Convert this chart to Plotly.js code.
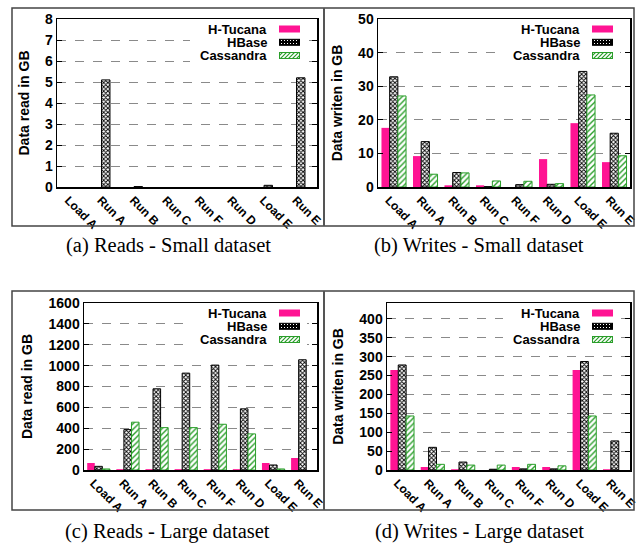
<!DOCTYPE html>
<html><head><meta charset="utf-8">
<script src="https://cdn.plot.ly/plotly-3.0.1.min.js"></script>
<style>html,body{margin:0;padding:0;background:#fff}#chart{width:638px;height:544px}</style>
</head><body><div id="chart"></div>
<script>
// ---------- data ----------
const categories = ['Load A', 'Run A', 'Run B', 'Run C', 'Run F', 'Run D', 'Load E', 'Run E'];
const seriesNames = ['H-Tucana', 'HBase', 'Cassandra'];

const readsSmallHTucana   = [0, 0, 0, 0, 0, 0, 0, 0];
const readsSmallHBase     = [0, 5.1, 0.02, 0, 0, 0, 0.08, 5.2];
const readsSmallCassandra = [0, 0, 0, 0, 0, 0, 0, 0];

const writesSmallHTucana   = [17.6, 9.2, 0.5, 0.5, 0, 8.3, 19.0, 7.4];
const writesSmallHBase     = [32.8, 13.5, 4.3, 0.1, 0.7, 0.8, 34.4, 16.0];
const writesSmallCassandra = [27.1, 3.8, 4.2, 1.8, 1.7, 1.0, 27.4, 9.3];

const readsLargeHTucana   = [67, 8, 8, 8, 8, 8, 67, 115];
const readsLargeHBase     = [35, 387, 778, 928, 1005, 586, 48, 1056];
const readsLargeCassandra = [10, 458, 406, 406, 438, 346, 10, 0];

const writesLargeHTucana   = [265, 8, 2, 0, 8, 8, 265, 2];
const writesLargeHBase     = [278, 60, 21, 2, 3, 3, 287, 77];
const writesLargeCassandra = [143, 15, 13, 13, 15, 11, 143, 0];

const yTitles  = ['Data read in GB', 'Data writen in GB', 'Data read in GB', 'Data writen in GB'];
const captions = ['(a) Reads - Small dataset', '(b) Writes - Small dataset', '(c) Reads - Large dataset', '(d) Writes - Large dataset'];
const yRanges  = [[0, 8], [0, 50], [0, 1600], [0, 442]];
const yDticks  = [1, 10, 200, 50];

const panelData = [
  [readsSmallHTucana, readsSmallHBase, readsSmallCassandra],
  [writesSmallHTucana, writesSmallHBase, writesSmallCassandra],
  [readsLargeHTucana, readsLargeHBase, readsLargeCassandra],
  [writesLargeHTucana, writesLargeHBase, writesLargeCassandra]
];

// ---------- layout geometry (pixels) ----------
const W = 638, H = 544;
const boxes = [
  {l: 57, r: 317, t: 19, b: 187},
  {l: 378, r: 630, t: 19, b: 187},
  {l: 84, r: 317, t: 303, b: 470},
  {l: 387, r: 630, t: 303, b: 470}
];
const captionPos = [[168, 246], [479, 246], [167, 531], [479, 531]];
const px = x => x / W;
const py = y => 1 - y / H;

const PINK = '#ff1493', GREEN = '#2a9e2a';
function styleFor(s, vals) {
  const w = vals.map(v => (v === 0 ? 0 : 1));
  if (s === 0) return {color: PINK, line: {color: PINK, width: 0}};
  if (s === 1) return {color: 'white', line: {color: 'black', width: w},
    pattern: {shape: 'x', fgcolor: 'black', bgcolor: 'white', size: 3, solidity: 0.5}};
  return {color: 'white', line: {color: GREEN, width: w},
    pattern: {shape: '/', fgcolor: GREEN, bgcolor: 'white', size: 4, solidity: 0.35}};
}

const traces = [];
const layout = {
  width: W, height: H,
  margin: {l: 0, r: 0, t: 0, b: 0},
  paper_bgcolor: 'white', plot_bgcolor: 'white',
  font: {family: 'Liberation Sans, Arial, sans-serif', color: 'black'},
  barmode: 'group', bargap: 0.22, bargroupgap: 0,
  showlegend: false,
  annotations: [], shapes: [], images: []
};

function legendSvg(w, h, rows) {
  let s = "<svg xmlns='http://www.w3.org/2000/svg' width='" + w + "' height='" + h + "'>" +
    "<defs><pattern id='chk' width='3' height='3' patternUnits='userSpaceOnUse'>" +
    "<rect width='3' height='3' fill='black'/><rect x='1' y='1' width='1' height='1' fill='white'/></pattern>" +
    "<pattern id='hat' width='4' height='4' patternUnits='userSpaceOnUse'>" +
    "<rect width='4' height='4' fill='white'/>" +
    "<path d='M-1,1 l2,-2 M0,4 l4,-4 M3,5 l2,-2' stroke='" + GREEN + "' stroke-width='1.2'/></pattern></defs>" +
    "<rect width='" + w + "' height='" + h + "' fill='white'/>";
  const fills = [PINK, 'url(#chk)', 'url(#hat)'];
  const strokes = [PINK, 'black', GREEN];
  rows.forEach((cy, k) => {
    s += "<rect x='" + 89.5 + "' y='" + (cy - 3) + "' width='20' height='6' fill='" + fills[k] +
         "' stroke='" + strokes[k] + "' stroke-width='1'/>";
  });
  s += "</svg>";
  return 'data:image/svg+xml;charset=utf-8,' + encodeURIComponent(s);
}

boxes.forEach((bx, i) => {
  const sfx = i === 0 ? '' : String(i + 1);
  panelData[i].forEach((vals, s) => {
    traces.push({
      type: 'bar', x: categories, y: vals, name: seriesNames[s],
      xaxis: 'x' + sfx, yaxis: 'y' + sfx, showlegend: false, hoverinfo: 'skip',
      marker: styleFor(s, vals)
    });
  });
  layout['xaxis' + sfx] = {
    domain: [px(bx.l), px(bx.r)], anchor: 'y' + sfx,
    type: 'category', range: [-0.5, 7.5],
    showline: true, linecolor: 'black', linewidth: 1.5, mirror: true,
    ticks: '', showgrid: false, zeroline: false,
    tickangle: 45, tickfont: {size: 12, weight: 'bold'},
    ticklabelshift: -5
  };
  layout['yaxis' + sfx] = {
    domain: [py(bx.b), py(bx.t)], anchor: 'x' + sfx,
    range: yRanges[i], tick0: 0, dtick: yDticks[i],
    showline: true, linecolor: 'black', linewidth: 1.5, mirror: 'ticks',
    ticks: 'inside', ticklen: 5, tickcolor: 'black', tickwidth: 1,
    tickfont: {size: 14, weight: 'bold'},
    showgrid: true, gridcolor: '#8a8a8a', griddash: 'dash', gridwidth: 1,
    zeroline: false,
    title: {text: yTitles[i], font: {size: 14, weight: 'bold'}, standoff: 12}
  };
  // legend (text as annotations, keys as an image)
  const rowsAbs = [bx.t + 10, bx.t + 23.3, bx.t + 36.5];
  const bgL = bx.r - 127, bgT = bx.t + 2, bgW = 117, bgH = 44;
  layout.images.push({
    source: legendSvg(bgW, bgH, rowsAbs.map(y => y - bgT)),
    xref: 'paper', yref: 'paper', x: px(bgL), y: py(bgT),
    sizex: bgW / W, sizey: bgH / H, xanchor: 'left', yanchor: 'top',
    sizing: 'stretch', layer: 'above'
  });
  seriesNames.forEach((nm, k) => {
    layout.annotations.push({
      text: nm, xref: 'paper', yref: 'paper', x: px(bx.r - 48), y: py(rowsAbs[k]),
      xanchor: 'right', yanchor: 'middle', showarrow: false,
      font: {size: 13, weight: 'bold'}
    });
  });
  layout.annotations.push({
    text: captions[i], xref: 'paper', yref: 'paper',
    x: px(captionPos[i][0]), y: py(captionPos[i][1]),
    xanchor: 'center', yanchor: 'middle', showarrow: false,
    font: {family: 'Liberation Serif, Times New Roman, serif', size: 20.5}
  });
});

// frames around the four sub-figures
[[8, 226], [291, 510]].forEach(([t, b]) => {
  layout.shapes.push({type: 'rect', xref: 'paper', yref: 'paper',
    x0: px(12), x1: px(634), y0: py(b), y1: py(t), line: {color: '#444', width: 1.5}});
  layout.shapes.push({type: 'line', xref: 'paper', yref: 'paper',
    x0: px(324), x1: px(324), y0: py(b), y1: py(t), line: {color: '#555', width: 2}});
});

Plotly.newPlot('chart', traces, layout, {displayModeBar: false, staticPlot: true});
</script>
</body></html>
